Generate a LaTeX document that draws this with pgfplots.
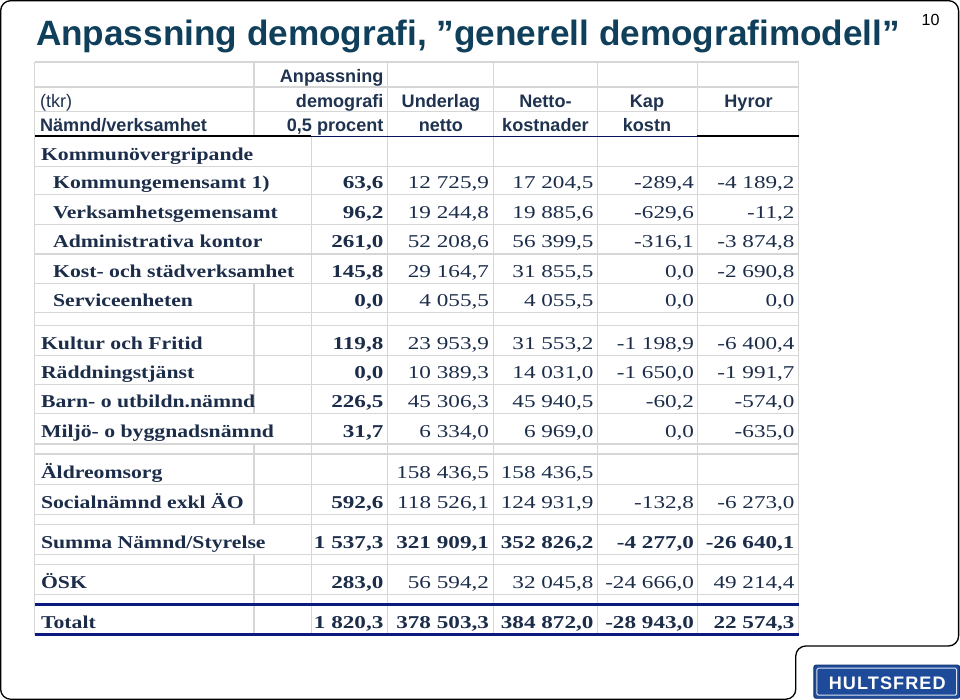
\documentclass[border=0pt]{standalone}
\usepackage{fontspec}
\usepackage{pgfplots}
\usepackage{pgfplotstable}
\pgfplotsset{compat=1.18}
\setmainfont{Liberation Serif}
\newfontfamily\arialfont{Liberation Sans}
\newfontfamily\tabfont[FakeStretch=1.28]{Liberation Serif}
\newfontfamily\namefont[FakeStretch=1.2]{Liberation Serif}
\newfontfamily\logofont[LetterSpace=6]{Liberation Sans}
\definecolor{titlecol}{HTML}{0F3F5A}
\definecolor{tabtext}{HTML}{1C2D4A}
\definecolor{headtext}{HTML}{1F3350}
\definecolor{gridcol}{HTML}{D6D6D6}
\definecolor{navy}{HTML}{0B1A80}
\definecolor{logoblue}{HTML}{1E4A9A}

% rows: baseline y, name x, name, Anpassning, Underlag, Netto, Kap, Hyror
\pgfplotstableread[col sep=semicolon]{
y;nx;name;a;b;c;d;e
161;43;Kommunövergripande;;;;;
189;55;Kommungemensamt 1);63,6;12 725,9;17 204,5;-289,4;-4 189,2
219;55;Verksamhetsgemensamt;96,2;19 244,8;19 885,6;-629,6;-11,2
248;55;Administrativa kontor;261,0;52 208,6;56 399,5;-316,1;-3 874,8
277;55;Kost- och städverksamhet;145,8;29 164,7;31 855,5;0,0;-2 690,8
306;55;Serviceenheten;0,0;4 055,5;4 055,5;0,0;0,0
349;43;Kultur och Fritid;119,8;23 953,9;31 553,2;-1 198,9;-6 400,4
378;43;Räddningstjänst;0,0;10 389,3;14 031,0;-1 650,0;-1 991,7
407;43;Barn- o utbildn.nämnd;226,5;45 306,3;45 940,5;-60,2;-574,0
437;43;Miljö- o byggnadsnämnd;31,7;6 334,0;6 969,0;0,0;-635,0
477;43;Äldreomsorg;;158 436,5;158 436,5;;
507;43;Socialnämnd exkl ÄO;592,6;118 526,1;124 931,9;-132,8;-6 273,0
587;43;ÖSK;283,0;56 594,2;32 045,8;-24 666,0;49 214,4
}\rowsnormal

\pgfplotstableread[col sep=semicolon]{
y;nx;name;a;b;c;d;e
547;43;Summa Nämnd/Styrelse;1 537,3;321 909,1;352 826,2;-4 277,0;-26 640,1
627;43;Totalt;1 820,3;378 503,3;384 872,0;-28 943,0;22 574,3
}\rowsbold

\pgfplotsset{
  celltext/.style={draw=none, mark=none, nodes near coords,
    point meta=explicit symbolic,
    every node near coord/.style={anchor=base east, inner sep=0pt,
      text=tabtext, font=\tabfont\fontsize{18}{20}\selectfont #1}},
  nametext/.style={draw=none, mark=none, nodes near coords,
    point meta=explicit symbolic,
    every node near coord/.style={anchor=base west, inner sep=0pt,
      text=tabtext, font=\namefont\bfseries\fontsize{18}{20}\selectfont}},
}

\begin{document}
\begin{tikzpicture}
\begin{axis}[
  scale only axis, width=960pt, height=701pt,
  xmin=0, xmax=960, ymin=0, ymax=701, y dir=reverse,
  hide axis, clip=false]

% slide frame
\draw[black, line width=1.3pt, rounded corners=10pt]
  (axis cs:3,2) -- (axis cs:956,2) -- (axis cs:956,644) -- (axis cs:794,644)
  -- (axis cs:794,697) -- (axis cs:3,697) -- cycle;

% title and page number
\node[anchor=base west, inner sep=0pt, text=titlecol,
  font=\arialfont\bfseries\fontsize{35}{40}\selectfont]
  at (axis cs:38,47) {Anpassning demografi, ”generell demografimodell”};
\node[anchor=base west, inner sep=0pt,
  font=\arialfont\fontsize{16}{18}\selectfont] at (axis cs:919,27) {10};

% grid lines
\pgfplotsinvokeforeach{63,88,112,167,195,225,254,283,312,325,355,384,413,443,453,483,513,523,553,563,593}{
  \draw[gridcol, line width=1.2pt] (axis cs:37,#1) -- (axis cs:797,#1);
}
\pgfplotsinvokeforeach{37,388,493,597,696,797}{
  \draw[gridcol, line width=1.2pt] (axis cs:#1,63) -- (axis cs:#1,633);
}
\draw[gridcol, line width=1.2pt] (axis cs:312,137) -- (axis cs:312,633);
\draw[gridcol, line width=1.2pt] (axis cs:255,63) -- (axis cs:255,137);
\draw[gridcol, line width=1.2pt] (axis cs:255,283) -- (axis cs:255,413);
\draw[gridcol, line width=1.2pt] (axis cs:255,443) -- (axis cs:255,523);
\draw[gridcol, line width=1.2pt] (axis cs:255,553) -- (axis cs:255,633);
\draw[black, line width=2.2pt] (axis cs:37,137) -- (axis cs:312,137);
\draw[navy!70!black, line width=1.5pt] (axis cs:312,137) -- (axis cs:696,137);
\draw[black, line width=2.2pt] (axis cs:696,137) -- (axis cs:797,137);
\draw[navy, line width=3pt] (axis cs:37,603) -- (axis cs:797,603);
\draw[navy, line width=3pt] (axis cs:37,633) -- (axis cs:797,633);

% header
\begin{scope}[every node/.style={inner sep=0pt, text=headtext,
    font=\arialfont\bfseries\fontsize{18}{20}\selectfont}]
\node[anchor=base east] at (axis cs:384,83) {Anpassning};
\node[anchor=base east] at (axis cs:384,108) {demografi};
\node[anchor=base east] at (axis cs:384,132) {0,5 procent};
\node[anchor=base west, font=\arialfont\fontsize{18}{20}\selectfont] at (axis cs:42,108) {(tkr)};
\node[anchor=base west] at (axis cs:42,132) {Nämnd/verksamhet};
\node[anchor=base] at (axis cs:441,108) {Underlag};
\node[anchor=base] at (axis cs:441,132) {netto};
\node[anchor=base] at (axis cs:545,108) {Netto-};
\node[anchor=base] at (axis cs:545,132) {kostnader};
\node[anchor=base] at (axis cs:646,108) {Kap};
\node[anchor=base] at (axis cs:646,132) {kostn};
\node[anchor=base] at (axis cs:747,108) {Hyror};
\end{scope}

% row names
\addplot[nametext] table[x=nx, y=y, meta=name] {\rowsnormal};
\addplot[nametext] table[x=nx, y=y, meta=name] {\rowsbold};

% values
\addplot[celltext=\bfseries] table[x expr=384, y=y, meta=a] {\rowsnormal};
\addplot[celltext=\bfseries] table[x expr=384, y=y, meta=a] {\rowsbold};
\addplot[celltext=] table[x expr=489, y=y, meta=b] {\rowsnormal};
\addplot[celltext=] table[x expr=593, y=y, meta=c] {\rowsnormal};
\addplot[celltext=] table[x expr=693, y=y, meta=d] {\rowsnormal};
\addplot[celltext=] table[x expr=793, y=y, meta=e] {\rowsnormal};
\addplot[celltext=\bfseries] table[x expr=489, y=y, meta=b] {\rowsbold};
\addplot[celltext=\bfseries] table[x expr=593, y=y, meta=c] {\rowsbold};
\addplot[celltext=\bfseries] table[x expr=693, y=y, meta=d] {\rowsbold};
\addplot[celltext=\bfseries] table[x expr=793, y=y, meta=e] {\rowsbold};

% logo
\draw[logoblue!70!black, fill=logoblue, rounded corners=2pt, line width=0.8pt]
  (axis cs:812,663) rectangle (axis cs:957,696);
\draw[white!85!logoblue, line width=1pt, rounded corners=1.5pt]
  (axis cs:815,666) rectangle (axis cs:954,693);
\node[anchor=base, inner sep=0pt, text=white,
  font=\logofont\bfseries\fontsize{18}{20}\selectfont]
  at (axis cs:885,687) {HULTSFRED};
\end{axis}
\end{tikzpicture}
\end{document}
